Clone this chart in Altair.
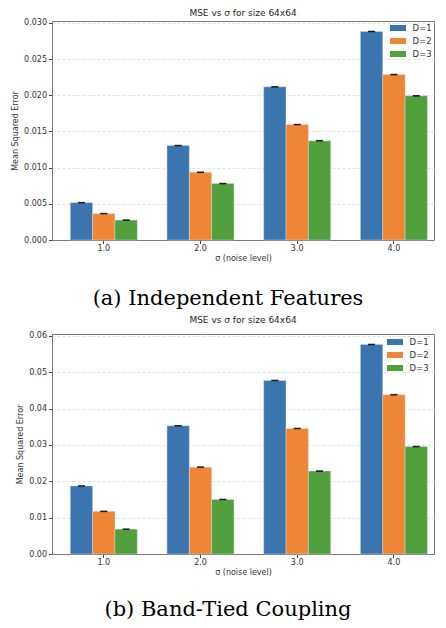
import altair as alt
import pandas as pd

sigmas = ["1.0", "2.0", "3.0", "4.0"]
dims = ["D=1", "D=2", "D=3"]

# (a) Independent Features
a_d1 = [0.00516, 0.01305, 0.02116, 0.02882]
a_d2 = [0.00365, 0.00936, 0.01595, 0.02286]
a_d3 = [0.00275, 0.00780, 0.01372, 0.01992]
a_err = [0.00003, 0.00003, 0.00003, 0.00003]

# (b) Band-Tied Coupling
b_d1 = [0.01871, 0.03526, 0.04772, 0.05762]
b_d2 = [0.01173, 0.02389, 0.03453, 0.04380]
b_d3 = [0.00682, 0.01500, 0.02280, 0.02953]
b_err = [0.00006, 0.00006, 0.00006, 0.00006]

panel_title = "MSE vs σ for size 64x64"
captions = ["(a) Independent Features", "(b) Band-Tied Coupling"]
colors = ["#3a75b0", "#ef8636", "#50a03e"]

a_ticks = [0, 0.005, 0.010, 0.015, 0.020, 0.025, 0.030]
b_ticks = [0, 0.01, 0.02, 0.03, 0.04, 0.05, 0.06]

W = 382


def make_df(series, err):
    rows = []
    for d, vals in zip(dims, series):
        for s, v, e in zip(sigmas, vals, err):
            rows.append({"sigma": s, "D": d, "mse": v, "lo": v - e, "hi": v + e})
    return pd.DataFrame(rows)


def panel(df, ymax, ticks, fmt, height, toff, lx, ly):
    x = alt.X("sigma:N", sort=sigmas,
              scale=alt.Scale(paddingInner=0.307, paddingOuter=0.1286, align=0.735),
              axis=alt.Axis(title="σ (noise level)", labelAngle=0, labelPadding=1,
                            titlePadding=2, grid=False))
    xo = alt.XOffset("D:N", sort=dims, scale=alt.Scale(paddingInner=0, paddingOuter=0))
    y = alt.Y("mse:Q", scale=alt.Scale(domain=[0, ymax], nice=False, zero=True),
              axis=alt.Axis(title="Mean Squared Error", values=ticks, format=fmt,
                            tickCount=20, grid=True, gridDash=[3, 2],
                            gridColor="#e2e2e2", labelOverlap=False, titlePadding=4))
    bars = alt.Chart(df).mark_bar(opacity=1, stroke="#dfe7ef", strokeWidth=0.4).encode(
        x=x, xOffset=xo, y=y,
        color=alt.Color("D:N", sort=dims,
                        scale=alt.Scale(domain=dims, range=colors),
                        legend=alt.Legend(title=None, orient="none",
                                          legendX=lx, legendY=ly)),
    )
    cap_hi = alt.Chart(df).mark_tick(color="black", size=7, thickness=1.2).encode(
        x=x, xOffset=xo, y="hi:Q")
    cap_lo = alt.Chart(df).mark_tick(color="black", size=7, thickness=1.2).encode(
        x=x, xOffset=xo, y="lo:Q")
    return alt.layer(bars, cap_hi, cap_lo).properties(
        width=W, height=height,
        title=alt.TitleParams(panel_title, fontSize=9, font="DejaVu Sans",
                              fontWeight="normal", color="#262626", offset=toff),
    )


def caption(text, height, cy):
    cdf = pd.DataFrame({"t": [text]})
    return alt.Chart(cdf).mark_text(font="DejaVu Serif", fontSize=21, color="black",
                                    baseline="middle", align="center").encode(
        text="t:N", x=alt.value(176), y=alt.value(cy)
    ).properties(width=W, height=height, view=alt.ViewBackground(strokeWidth=0))


df_a = make_df([a_d1, a_d2, a_d3], a_err)
df_b = make_df([b_d1, b_d2, b_d3], b_err)

pa = panel(df_a, 0.03026, a_ticks, ".3f", 219, 1, 338, -1)
pb = panel(df_b, 0.0605, b_ticks, ".2f", 220, 7, 335, 0)

chart = alt.vconcat(
    pa, caption(captions[0], 52, 36), pb, caption(captions[1], 43, 33), spacing=0
).resolve_scale(color="independent").resolve_legend(color="independent").properties(
    padding={"left": 3, "right": 0, "top": 0, "bottom": 0}
).configure_view(stroke="#7a7a7a", strokeWidth=1).configure_axis(
    labelFont="DejaVu Sans", titleFont="DejaVu Sans", labelFontSize=8, titleFontSize=8,
    labelColor="#333", titleColor="#333", titleFontWeight="normal",
    tickSize=3.5, tickColor="#444", domainColor="#7a7a7a", domainWidth=1,
).configure_legend(
    labelFont="DejaVu Sans", labelFontSize=8.5, labelColor="#333",
    symbolType="M-1,-0.375H1V0.375H-1Z", symbolSize=256, symbolStrokeWidth=0,
    symbolOpacity=1, labelOffset=6.5, rowPadding=-7, padding=0,
)

chart.save("out.html", embed_options={"renderer": "svg", "actions": False})
